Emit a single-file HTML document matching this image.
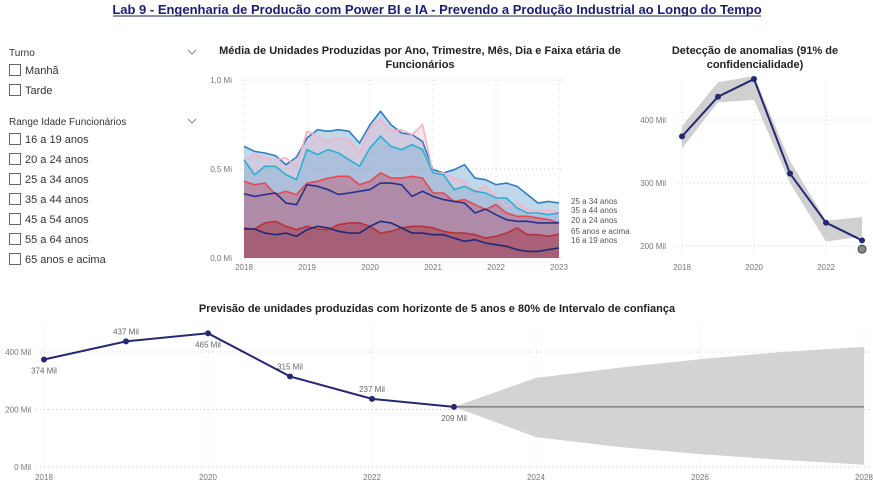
<!DOCTYPE html>
<html><head><meta charset="utf-8"><style>
body{margin:0;background:#fff;width:873px;height:488px;overflow:hidden;font-family:"Liberation Sans",sans-serif}
svg text{font-family:"Liberation Sans",sans-serif}
</style></head><body>
<svg id="s" width="873" height="488" xmlns="http://www.w3.org/2000/svg">
<text x="437" y="14" text-anchor="middle" font-size="13" font-weight="bold" fill="#1b1f6b">Lab 9 - Engenharia de Producão com Power BI e IA - Prevendo a Produção Industrial ao Longo do Tempo</text>
<line x1="113" y1="16" x2="761" y2="16" stroke="#1b1f6b" stroke-width="1"/>
<g id="slicers"></g>
<g id="area"></g>
<g id="anom"></g>
<g id="fc"></g>
</svg>
<script>
const NS="http://www.w3.org/2000/svg";
function el(p,t,a,txt){const e=document.createElementNS(NS,t);for(const k in a)e.setAttribute(k,a[k]);if(txt!==undefined)e.textContent=txt;p.appendChild(e);return e;}
// ---- slicers ----
const turnoItems=["Manhã","Tarde"];
const idadeItems=["16 a 19 anos","20 a 24 anos","25 a 34 anos","35 a 44 anos","45 a 54 anos","55 a 64 anos","65 anos e acima"];
const sl=document.getElementById('slicers');
function header(y,txt,name){const t=el(sl,'text',{x:9,y:y,'font-size':10,fill:'#333'},txt);


const c=el(sl,'path',{d:`M188 ${y-6} l4 4 l4 -4`,fill:'none',stroke:'#888','stroke-width':1});

}
function item(y,txt){const g=el(sl,'g',{});


el(g,'rect',{x:9.5,y:y-9.5,width:11,height:11,fill:'#fff',stroke:'#666','stroke-width':1});
el(g,'text',{x:25,y:y,'font-size':11,fill:'#333'},txt);}
header(56,"Turno","turno-header");
turnoItems.forEach((t,i)=>item(74+i*20,t));
header(125,"Range Idade Funcionários","idade-header");
idadeItems.forEach((t,i)=>item(143+i*20,t));

// ---- area chart ----
const areaSeries=["25 a 34 anos","45 a 54 anos","35 a 44 anos","20 a 24 anos","55 a 64 anos","65 anos e acima","16 a 19 anos"];
const s2534=[627,599,590,575,524,567,674,721,712,721,712,646,749,824,749,702,693,655,496,478,496,524,449,440,412,421,403,356,309,318,309];
const s4554=[552,581,562,552,562,515,712,684,655,674,665,590,730,777,712,721,693,749,478,478,449,431,375,403,346,290,309,272,262,272,253];
const s3544=[552,468,515,515,468,440,609,581,609,590,552,515,618,684,627,609,637,609,478,468,384,403,375,365,337,337,281,253,253,243,253];
const s2024=[431,412,421,356,375,356,421,431,449,459,459,412,431,478,449,449,459,449,365,365,318,328,300,272,300,253,234,234,225,215,197];
const s5564=[361,346,356,365,309,300,412,403,384,356,365,375,384,421,421,412,346,375,346,328,318,309,253,275,243,215,206,206,197,197,197];
const s65=[169,163,197,206,178,159,178,163,159,187,197,197,178,140,150,169,178,178,169,150,140,140,131,112,122,140,169,131,131,122,135];
const s1619=[163,163,140,131,140,122,159,178,169,150,140,140,178,206,197,169,140,140,131,131,112,94,103,84,75,66,47,37,37,47,56];
const areaData=[s2534,s4554,s3544,s2024,s5564,s65,s1619];
const areaColors=["#2f7fc1","#f4b3c6","#2bb0d4","#e8474f","#26338c","#b8323a","#1f2a7a"];
const areaFill=["#2f7fc1","#f4b3c6","#7fb2d6","#c0607a","#26338c","#a8404e","#1f2a7a"];
const areaOpacity=[0.3,0.35,0.45,0.5,0.04,0.55,0.04];
const areaYTicks=[0,500,1000];const areaYLabels=["0,0 Mi","0,5 Mi","1,0 Mi"];
const areaXTicks=["2018","2019","2020","2021","2022","2023"];
const legendLabels=["25 a 34 anos","35 a 44 anos","20 a 24 anos","65 anos e acima","16 a 19 anos"];
(function(){
const g=document.getElementById('area');
const x0=244,x1=559,y0=258,y1=80;
const X=i=>x0+(x1-x0)*i/30, Y=v=>y0-(y0-y1)*v/1000;
const t=el(g,'text',{x:420,y:54,'text-anchor':'middle','font-size':11,'font-weight':'bold',fill:'#222'},"Média de Unidades Produzidas por Ano, Trimestre, Mês, Dia e Faixa etária de");


el(g,'text',{x:420,y:68,'text-anchor':'middle','font-size':11,'font-weight':'bold',fill:'#222'},"Funcionários");
areaYTicks.forEach((v,i)=>{el(g,'line',{x1:x0-4,x2:x1+5,y1:Y(v),y2:Y(v),stroke:'#ccc','stroke-dasharray':'1 3'});
const l=el(g,'text',{x:232,y:Y(v)+3,'text-anchor':'end','font-size':8,fill:'#777'},areaYLabels[i]);

});
areaXTicks.forEach((v,i)=>{const x=x0+(x1-x0)*i/5;el(g,'line',{x1:x,x2:x,y1:y1,y2:y0,stroke:'#ddd','stroke-dasharray':'1 3'});
const l=el(g,'text',{x:x,y:270,'text-anchor':'middle','font-size':8,fill:'#777'},v);

});
areaData.forEach((d,si)=>{
let p=d.map((v,i)=>`${X(i).toFixed(1)},${Y(v).toFixed(1)}`).join(' L');
const a=el(g,'path',{d:`M${X(0)},${y0} L${p} L${X(30)},${y0} Z`,fill:areaFill[si],'fill-opacity':areaOpacity[si]});

});
areaData.forEach((d,si)=>{
let p=d.map((v,i)=>`${X(i).toFixed(1)},${Y(v).toFixed(1)}`).join(' L');
const ln=el(g,'path',{d:'M'+p,fill:'none',stroke:areaColors[si],'stroke-width':1.6});

});
const ly=[204,213,223,234,243];
legendLabels.forEach((t,i)=>{const l=el(g,'text',{x:571,y:ly[i],'font-size':8,fill:'#555'},t);

});
})();

// ---- anomaly chart ----
const anomYears=[2018,2019,2020,2021,2022,2023];
const anomVals=[374,437,465,315,237,209];
const anomUpper=[390,460,470,335,240,246];
const anomLower=[355,428,432,300,207,215];
const anomPoint=[2023,195];
const anomYTicks=[200,300,400];
(function(){
const g=document.getElementById('anom');
const X=y=>682+(y-2018)*36, Y=v=>246-(v-200)*0.63;
let t=el(g,'text',{x:755,y:54,'text-anchor':'middle','font-size':11,'font-weight':'bold',fill:'#222'},"Detecção de anomalias (91% de");


el(g,'text',{x:755,y:68,'text-anchor':'middle','font-size':11,'font-weight':'bold',fill:'#222'},"confidencialidade)");
anomYTicks.forEach(v=>{el(g,'line',{x1:678,x2:870,y1:Y(v),y2:Y(v),stroke:'#ccc','stroke-dasharray':'1 3'});
const l=el(g,'text',{x:666,y:Y(v)+3,'text-anchor':'end','font-size':8,fill:'#777'},v+" Mil");

});
[2018,2020,2022].forEach(y=>{el(g,'line',{x1:X(y),x2:X(y),y1:80,y2:255,stroke:'#ddd','stroke-dasharray':'1 3'});
const l=el(g,'text',{x:X(y),y:270,'text-anchor':'middle','font-size':8,fill:'#777'},y);

});
const up=anomYears.map((y,i)=>`${X(y)},${Y(anomUpper[i])}`).join(' L');
const lo=anomYears.map((y,i)=>`${X(y)},${Y(anomLower[i])}`).reverse().join(' L');
const b=el(g,'path',{d:`M${up} L${lo} Z`,fill:'#d0d0d0'});


const ln=el(g,'path',{d:'M'+anomYears.map((y,i)=>`${X(y)},${Y(anomVals[i])}`).join(' L'),fill:'none',stroke:'#252873','stroke-width':2});


anomYears.forEach((y,i)=>{const c=el(g,'circle',{cx:X(y),cy:Y(anomVals[i]),r:3,fill:'#252873'});

});
const a=el(g,'circle',{cx:X(anomPoint[0]),cy:Y(anomPoint[1]),r:4,fill:'#888',stroke:'#444','stroke-width':1});


})();

// ---- forecast chart ----
const fcYears=[2018,2019,2020,2021,2022,2023];
const fcVals=[374,437,465,315,237,209];
const fcLabels=["374 Mil","437 Mil","465 Mil","315 Mil","237 Mil","209 Mil"];
const fcLabelAbove=[false,true,false,true,true,false];
const fcFutYears=[2023,2024,2025,2026,2027,2028];
const fcForecast=[209,209,209,209,209,209];
const fcUpper=[209,310,345,375,400,418];
const fcLower=[209,104,70,45,25,8];
const fcYTicks=[0,200,400];
const fcXTicks=[2018,2020,2022,2024,2026,2028];
(function(){
const g=document.getElementById('fc');
const X=y=>44+(y-2018)*82, Y=v=>467-v*0.2875;
const t=el(g,'text',{x:437,y:312,'text-anchor':'middle','font-size':11,'font-weight':'bold',fill:'#222'},"Previsão de unidades produzidas com horizonte de 5 anos e 80% de Intervalo de confiança");


fcYTicks.forEach(v=>{el(g,'line',{x1:36,x2:870,y1:Y(v),y2:Y(v),stroke:'#ccc','stroke-dasharray':'1 3'});
const l=el(g,'text',{x:31,y:Y(v)+3,'text-anchor':'end','font-size':8,fill:'#777'},v+" Mil");

});
fcXTicks.forEach(y=>{el(g,'line',{x1:X(y),x2:X(y),y1:325,y2:467,stroke:'#ddd','stroke-dasharray':'1 3'});
const l=el(g,'text',{x:X(y),y:480,'text-anchor':'middle','font-size':8,fill:'#777'},y);

});
const up=fcFutYears.map((y,i)=>`${X(y)},${Y(fcUpper[i])}`).join(' L');
const lo=fcFutYears.map((y,i)=>`${X(y)},${Y(fcLower[i])}`).reverse().join(' L');
const b=el(g,'path',{d:`M${up} L${lo} Z`,fill:'#d3d3d3'});


const f=el(g,'path',{d:'M'+fcFutYears.map((y,i)=>`${X(y)},${Y(fcForecast[i])}`).join(' L'),fill:'none',stroke:'#555','stroke-width':1});


const ln=el(g,'path',{d:'M'+fcYears.map((y,i)=>`${X(y)},${Y(fcVals[i])}`).join(' L'),fill:'none',stroke:'#252873','stroke-width':2});


fcYears.forEach((y,i)=>{const c=el(g,'circle',{cx:X(y),cy:Y(fcVals[i]),r:3,fill:'#252873'});


const l=el(g,'text',{x:X(y),y:Y(fcVals[i])+(fcLabelAbove[i]?-7:14),'text-anchor':'middle','font-size':8,fill:'#666'},fcLabels[i]);

});
})();
</script>
</body></html>
